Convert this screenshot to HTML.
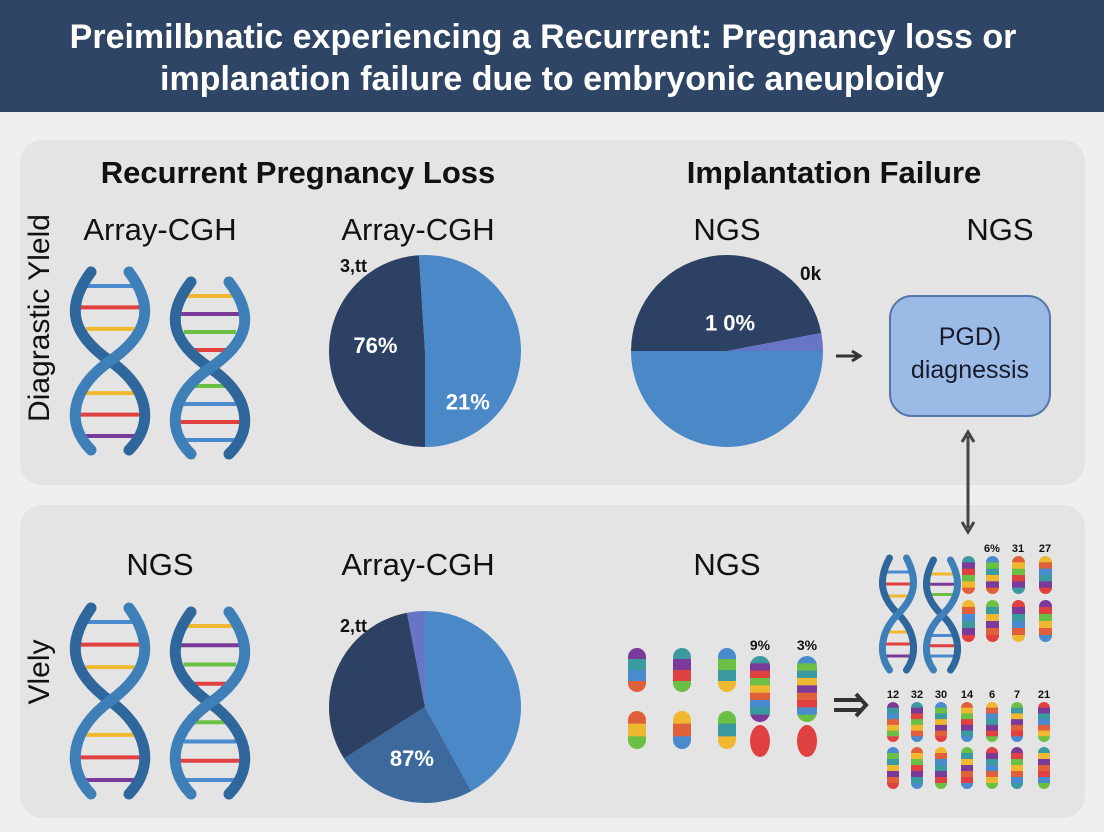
<!DOCTYPE html>
<html><head><meta charset="utf-8"><style>
html,body{margin:0;padding:0;background:#f0f0f0;}
svg{display:block;font-family:"Liberation Sans",Arial,sans-serif;}
</style></head><body>
<svg id="s" width="1104" height="832" viewBox="0 0 1104 832" xmlns="http://www.w3.org/2000/svg">
<rect x="0" y="0" width="1104" height="832" fill="#efefef"/>
<rect x="0" y="0" width="1104" height="112" fill="#2f4566"/>
<text x="543" y="48" text-anchor="middle" fill="#fff" font-size="34" font-weight="bold">Preimilbnatic experiencing a Recurrent: Pregnancy loss or</text>
<text x="552" y="90" text-anchor="middle" fill="#fff" font-size="34" font-weight="bold">implanation failure due to embryonic aneuploidy</text>
<rect x="20" y="140" width="1065" height="345" rx="22" fill="#e4e4e4"/>
<rect x="20" y="505" width="1065" height="313" rx="22" fill="#e4e4e4"/>
<text x="298" y="183" text-anchor="middle" font-size="31" font-weight="bold" fill="#111">Recurrent Pregnancy Loss</text>
<text x="834" y="183" text-anchor="middle" font-size="31" font-weight="bold" fill="#111">Implantation Failure</text>
<text x="160" y="240" text-anchor="middle" font-size="31" fill="#111">Array-CGH</text>
<text x="418" y="240" text-anchor="middle" font-size="31" fill="#111">Array-CGH</text>
<text x="727" y="240" text-anchor="middle" font-size="31" fill="#111">NGS</text>
<text x="1000" y="240" text-anchor="middle" font-size="31" fill="#111">NGS</text>
<text x="160" y="575" text-anchor="middle" font-size="31" fill="#111">NGS</text>
<text x="418" y="575" text-anchor="middle" font-size="31" fill="#111">Array-CGH</text>
<text x="727" y="575" text-anchor="middle" font-size="31" fill="#111">NGS</text>
<text transform="translate(49,318) rotate(-90)" text-anchor="middle" font-size="30" fill="#111">Diagrastic Yleld</text>
<text transform="translate(49,672) rotate(-90)" text-anchor="middle" font-size="30" fill="#111">Vlely</text>
<text x="340" y="272" font-size="18" font-weight="bold" fill="#111">3,tt</text>
<text x="800" y="280" font-size="19" font-weight="bold" fill="#111">0k</text>
<text x="340" y="632" font-size="18" font-weight="bold" fill="#111">2,tt</text>
<rect x="890" y="296" width="160" height="120" rx="22" fill="#9bbbe6" stroke="#5577a8" stroke-width="2"/>
<text x="970" y="345" text-anchor="middle" font-size="25" fill="#1a1a2a">PGD)</text>
<text x="970" y="378" text-anchor="middle" font-size="25" fill="#1a1a2a">diagnessis</text>
<g id="g"></g>
</svg>
<script>
const pie1Values=[49,51];
const pie1Colors=['#2c4163','#4a88c8'];
const pie1Labels=['76%','21%'];
const pie2Values=[47,3,50];
const pie2Colors=['#2c4163','#6675c6','#4a88c8'];
const pie2Labels=['1 0%','',''];
const pie3Values=[42,24,31,3];
const pie3Colors=['#4a88c8','#3d6a9e','#2c4163','#6675c6'];
const pie3Labels=['','87%','',''];
const topNums=['6%','31','27'];
const botNums=['12','32','30','14','6','7','21'];
const midNums=['9%','3%'];
const NS='http://www.w3.org/2000/svg';
const G=document.getElementById('g');
function mk(t,a,p){const e=document.createElementNS(NS,t);for(const k in a)e.setAttribute(k,a[k]);(p||G).appendChild(e);return e;}
function pie(cx,cy,r,vals,cols,labs,start,name,labPos,labShift){
 const tot=vals.reduce((a,b)=>a+b,0);let a=start;
 vals.forEach((v,i)=>{const a2=a+v/tot*2*Math.PI;
  const x1=cx+r*Math.sin(a),y1=cy-r*Math.cos(a),x2=cx+r*Math.sin(a2),y2=cy-r*Math.cos(a2);
  const p=mk('path',{d:`M${cx},${cy}L${x1},${y1}A${r},${r} 0 ${(a2-a)>Math.PI?1:0} 1 ${x2},${y2}Z`,fill:cols[i]});
  
  
  if(labs[i]){const sh=Array.isArray(labShift)?labShift[i]:(labShift||0);const lp=Array.isArray(labPos)?labPos[i]:(labPos||0.55);
   const m=(a+a2)/2+sh,lr=r*lp;
   const t=mk('text',{x:cx+lr*Math.sin(m),y:cy-lr*Math.cos(m)+8,'text-anchor':'middle','font-size':22,'font-weight':'bold',fill:'#fff'});t.textContent=labs[i];
   
   }
  a=a2;});
}
pie(425,351,96,pie1Values,pie1Colors,pie1Labels,Math.PI,'pie-rpl-top',[0.52,0.69],[0.15,0.9]);
pie(727,351,96,pie2Values,pie2Colors,pie2Labels,-Math.PI/2,'pie-if-top',0.3,0.2);
pie(425,707,96,pie3Values,pie3Colors,pie3Labels,0,'pie-rpl-bottom',0.55);
function helix(x,y,w,h,rungs,name,sw){
 sw=sw||11;
 const g=mk('g',{});
 const cx=x+w/2,my=y+h/2;
 rungs.forEach((c,i)=>{const ry=y+14+i*(h-28)/(rungs.length-1);const d=Math.abs(ry-my)/(h/2);const hw=w*0.42*Math.min(1,Math.sin(Math.min(1,d)*Math.PI/2+0.3));
  if(Math.abs(ry-my)<12)return;mk('line',{x1:cx-hw,y1:ry,x2:cx+hw,y2:ry,stroke:c,'stroke-width':sw<11?3:4},g);});
 const sA=`M${x+w*0.25},${y} C${x-w*0.1},${y+h*0.2} ${x},${y+h*0.35} ${cx},${my} S${x+w*1.1},${y+h*0.85} ${x+w*0.75},${y+h}`;
 const sB=`M${x+w*0.75},${y} C${x+w*1.1},${y+h*0.2} ${x+w},${y+h*0.35} ${cx},${my} S${x-w*0.1},${y+h*0.85} ${x+w*0.25},${y+h}`;
 mk('path',{d:sA,fill:'none',stroke:'#2f679c','stroke-width':sw,'stroke-linecap':'round'},g);
 mk('path',{d:sB,fill:'none',stroke:'#3f7fb8','stroke-width':sw,'stroke-linecap':'round'},g);
}
const R1=['#4a8bd0','#e04040','#f0b830','#4a8bd0','#f0b830','#f0b830','#e04040','#7a3a9a'];
const R2=['#f0b830','#7a3a9a','#6bbf45','#e04040','#4a8bd0','#6bbf45','#4a8bd0','#e04040','#4a8bd0'];
helix(72,272,76,178,R1,'dna-helix-1');helix(172,282,76,172,R2,'dna-helix-2');
helix(72,608,76,186,R1,'dna-helix-3');helix(172,612,76,182,R2,'dna-helix-4');
helix(881,558,34,112,R1,'dna-helix-5',7);helix(925,560,34,110,R2,'dna-helix-6',7);
const PAL=['#e04040','#f0b830','#4a8bd0','#7a3a9a','#6bbf45','#e0603a','#3a9aa0'];
function chrom(x,y,w,h,n,seed,name){
 const g=mk('g',{});
 const id='c'+Math.round(x)+'_'+Math.round(y);
 const cp=mk('clipPath',{id},g);mk('rect',{x,y,width:w,height:h,rx:w/2},cp);
 const bh=h/n;for(let i=0;i<n;i++)mk('rect',{x,y:y+i*bh,width:w,height:bh+0.5,fill:PAL[(seed*3+i*(seed%3+2))%PAL.length],'clip-path':`url(#${id})`},g);
}
[[637,648],[682,648],[727,648]].forEach((p,i)=>{chrom(p[0]-9,p[1],18,44,4,i+1,'chrom-small-top-'+i);chrom(p[0]-9,p[1]+63,18,38,3,i+4,'chrom-small-bot-'+i);});
[[760,0],[807,1]].forEach((p,i)=>{chrom(p[0]-10,656,20,66,9,i+2,'chrom-big-'+i);mk('ellipse',{cx:p[0],cy:741,rx:10,ry:16,fill:'#e04040'});
 const t=mk('text',{x:p[0],y:650,'text-anchor':'middle','font-size':14,'font-weight':'bold',fill:'#111'});t.textContent=midNums[i];
 
 });
const topX=[968,992,1018,1045];
topX.forEach((x,i)=>{chrom(x-6,556,13,38,6,i+2,'chrom-tr-top-'+i);chrom(x-6,600,13,42,6,i+5,'chrom-tr-bot-'+i);
 if(i>0){const t=mk('text',{x:x,y:552,'text-anchor':'middle','font-size':11,'font-weight':'bold',fill:'#111'});t.textContent=topNums[i-1];
 
 }});
const botX=[893,917,941,967,992,1017,1044];
botX.forEach((x,i)=>{chrom(x-6,702,12,40,7,i+1,'chrom-br-top-'+i);chrom(x-6,747,12,42,7,i+3,'chrom-br-bot-'+i);
 const t=mk('text',{x:x,y:698,'text-anchor':'middle','font-size':11,'font-weight':'bold',fill:'#111'});t.textContent=botNums[i];
 
 });
const a1=mk('path',{d:'M836,356 L858,356 M852,351 L860,356 L852,361',stroke:'#333','stroke-width':3,fill:'none'});


const a2=mk('path',{d:'M968,436 L968,528 M962,442 L968,432 L974,442 M962,522 L968,532 L974,522',stroke:'#444','stroke-width':3,fill:'none'});


const a3=mk('path',{d:'M834,700 L862,700 M834,710 L862,710 M856,694 L866,705 L856,716',stroke:'#333','stroke-width':4,fill:'none'});


</script>
</body></html>
